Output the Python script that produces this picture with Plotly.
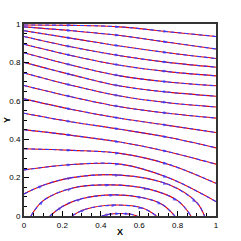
import plotly.graph_objects as go

# streamlines: each as x list / y list
t1_x = [0, 0.25, 0.5, 0.75, 1]; t1_y = [0.995, 0.993, 0.985, 0.96, 0.935]
t2_x = [0, 0.25, 0.5, 0.75, 1]; t2_y = [0.985, 0.965, 0.94, 0.905, 0.87]
t3_x = [0, 0.25, 0.5, 0.75, 1]; t3_y = [0.965, 0.925, 0.885, 0.85, 0.82]
t4_x = [0, 0.25, 0.5, 0.75, 1]; t4_y = [0.935, 0.88, 0.835, 0.8, 0.775]
t5_x = [0, 0.25, 0.5, 0.75, 1]; t5_y = [0.895, 0.835, 0.785, 0.752, 0.73]
t6_x = [0, 0.25, 0.5, 0.75, 1]; t6_y = [0.85, 0.785, 0.73, 0.698, 0.678]
t7_x = [0, 0.25, 0.5, 0.75, 1]; t7_y = [0.8, 0.735, 0.677, 0.645, 0.624]
t8_x = [0, 0.25, 0.5, 0.75, 1]; t8_y = [0.745, 0.68, 0.625, 0.59, 0.568]
t9_x = [0, 0.25, 0.5, 0.75, 1]; t9_y = [0.68, 0.62, 0.569, 0.535, 0.51]
t10_x = [0, 0.25, 0.5, 0.75, 1]; t10_y = [0.61, 0.555, 0.509, 0.472, 0.435]
t11_x = [0, 0.25, 0.5, 0.75, 1]; t11_y = [0.535, 0.49, 0.452, 0.41, 0.355]
t12_x = [0, 0.25, 0.5, 0.75, 1]; t12_y = [0.45, 0.42, 0.385, 0.335, 0.27]
t13_x = [0, 0.25, 0.5, 0.75, 1]; t13_y = [0.35, 0.342, 0.326, 0.27, 0.17]
t14_x = [0, 0.25, 0.5, 0.75, 1]; t14_y = [0.24, 0.268, 0.27, 0.2, 0.075]
l15_x = [0, 0.1, 0.25, 0.5, 0.75, 0.9, 0.94]; l15_y = [0.115, 0.16, 0.2, 0.213, 0.165, 0.07, 0]
a1_x = [0.036, 0.1, 0.25, 0.45, 0.65, 0.8, 0.87]; a1_y = [0, 0.08, 0.145, 0.162, 0.14, 0.08, 0]
a2_x = [0.135, 0.2, 0.3, 0.47, 0.62, 0.72, 0.786]; a2_y = [0, 0.05, 0.09, 0.11, 0.095, 0.06, 0]
a3_x = [0.25, 0.32, 0.48, 0.62, 0.69]; a3_y = [0, 0.035, 0.057, 0.04, 0]
a4_x = [0.405, 0.45, 0.5, 0.55, 0.59]; a4_y = [0, 0.01, 0.013, 0.01, 0]

streams = [(t1_x, t1_y), (t2_x, t2_y), (t3_x, t3_y), (t4_x, t4_y), (t5_x, t5_y),
           (t6_x, t6_y), (t7_x, t7_y), (t8_x, t8_y), (t9_x, t9_y), (t10_x, t10_y),
           (t11_x, t11_y), (t12_x, t12_y), (t13_x, t13_y), (t14_x, t14_y),
           (l15_x, l15_y), (a1_x, a1_y), (a2_x, a2_y), (a3_x, a3_y), (a4_x, a4_y)]

tick_vals = [0, 0.2, 0.4, 0.6, 0.8, 1]
tick_text = ["0", "0.2", "0.4", "0.6", "0.8", "1"]

RED = "#e00000"
BLUE = "#3838ff"

fig = go.Figure()
for sx, sy in streams:
    fig.add_trace(go.Scatter(x=sx, y=sy, mode="lines", line=dict(color=RED, width=1.1, shape="spline"),
                             showlegend=False, hoverinfo="skip"))
for sx, sy in streams:
    fig.add_trace(go.Scatter(x=sx, y=sy, mode="lines",
                             line=dict(color=BLUE, width=1.1, shape="spline", dash="4px,3px"),
                             showlegend=False, hoverinfo="skip"))
# small arrowheads along each streamline (interior points only)
for sx, sy in streams:
    n = len(sx)
    sizes = [0] + [5] * (n - 2) + [0]
    fig.add_trace(go.Scatter(x=sx, y=sy, mode="markers",
                             marker=dict(symbol="arrow", angleref="previous", size=sizes,
                                         color=BLUE, line=dict(width=0)),
                             showlegend=False, hoverinfo="skip"))

font_fam = "Liberation Sans, Arial"
axis_common = dict(range=[0, 1], tickvals=tick_vals, ticktext=tick_text, ticks="inside", ticklen=5,
                   tickwidth=1, tickcolor="black", showgrid=False, zeroline=False, showline=True,
                   linecolor="#333", linewidth=2, mirror=True, automargin=False,
                   tickfont=dict(family=font_fam, size=8, color="black"),
                   minor=dict(ticks="inside", ticklen=3, dtick=0.05, tickcolor="black", tickwidth=1))
fig.update_xaxes(**axis_common)
fig.update_yaxes(**axis_common)
fig.add_annotation(text="<b>X</b>", xref="paper", yref="paper", x=0.5, y=-0.085, yanchor="middle",
                   showarrow=False, font=dict(family=font_fam, size=9, color="black"))
fig.add_annotation(text="<b>Y</b>", xref="paper", yref="paper", x=-0.088, y=0.5, xanchor="center",
                   textangle=-90, showarrow=False, font=dict(family=font_fam, size=9, color="black"))
fig.update_layout(width=241, height=241, margin=dict(l=24, r=25, t=24, b=25),
                  paper_bgcolor="white", plot_bgcolor="white")
fig.write_html("out.html", config={"displayModeBar": False},
               post_script="document.body.style.margin='0px';")
